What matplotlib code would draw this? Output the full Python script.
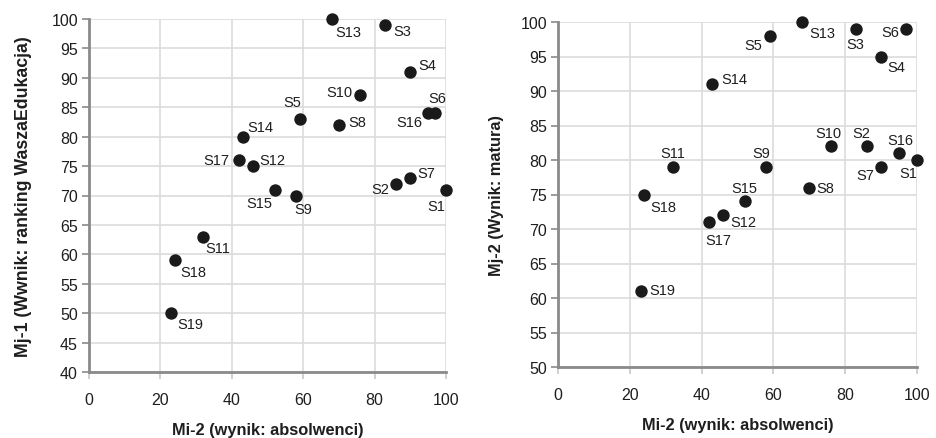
import matplotlib
matplotlib.use("Agg")
import matplotlib.pyplot as plt

plt.rcParams['font.family'] = ['Liberation Sans', 'DejaVu Sans']

labels = ["S1", "S2", "S3", "S4", "S5", "S6", "S7", "S8", "S9", "S10",
          "S11", "S12", "S13", "S14", "S15", "S16", "S17", "S18", "S19"]
mi2 = [100, 86, 83, 90, 59, 97, 90, 70, 58, 76, 32, 46, 68, 43, 52, 95, 42, 24, 23]
mj1 = [71, 72, 99, 91, 83, 84, 73, 82, 70, 87, 63, 75, 100, 80, 71, 84, 76, 59, 50]
mj2 = [80, 82, 99, 95, 98, 99, 79, 76, 79, 82, 79, 72, 100, 91, 74, 81, 71, 75, 61]

# label offsets in pixels (dx right, dy down)
off1 = {"S13": (17, 13), "S3": (17, 6), "S4": (17, -7), "S10": (-21, -3),
        "S6": (2, -15), "S16": (-19, 9), "S5": (-7, -17), "S8": (18, -3),
        "S14": (18, -10), "S17": (-23, 0), "S12": (19, -6), "S15": (-15, 13),
        "S9": (7, 14), "S2": (-16, 5), "S7": (16, -5), "S1": (-10, 16),
        "S11": (15, 11), "S18": (19, 12), "S19": (19, 11)}
off2 = {"S13": (20, 11), "S3": (-1, 15), "S6": (-16, 3), "S4": (15, 11),
        "S5": (-17, 9), "S14": (22, -5), "S10": (-2, -13), "S2": (-5, -13),
        "S16": (1, -13), "S1": (-9, 13), "S7": (-16, 8), "S11": (0, -14),
        "S9": (-5, -14), "S8": (16, 0), "S18": (19, 13), "S15": (0, -13),
        "S12": (20, 7), "S17": (10, 18), "S19": (22, -1)}

fig = plt.figure(figsize=(9.36, 4.39), dpi=100)
ax1 = fig.add_axes([89/936, 1-373/439, (446-89)/936, (373-20)/439])
ax2 = fig.add_axes([558/936, 1-368/439, (917-558)/936, (368-23)/439])

spine_c = '#8a8a8a'
grid_c = '#dcdcdc'
txt_c = '#1e1e1e'
pt = 0.72


def style(ax, ylim, yticks, ylabel, ylabsize, ylabpad):
    ax.set_xlim(0, 100)
    ax.set_ylim(*ylim)
    ax.set_xticks(range(0, 101, 20))
    ax.set_yticks(yticks)
    ax.grid(True, color=grid_c, linewidth=1.2, zorder=0)
    ax.set_axisbelow(True)
    for s in ['top', 'right']:
        ax.spines[s].set_visible(False)
    for s in ['left', 'bottom']:
        ax.spines[s].set_color(spine_c)
        ax.spines[s].set_linewidth(2)
    ax.tick_params(axis='y', length=5, width=1.2, color=spine_c, pad=3,
                   labelsize=11.5, labelcolor=txt_c)
    ax.tick_params(axis='x', length=5, width=1.2, color='#c8c8c8', pad=9.5,
                   labelsize=11.5, labelcolor=txt_c)
    ax.set_xlabel("Mi-2 (wynik: absolwenci)", fontsize=11.8, fontweight='bold',
                  color=txt_c, labelpad=11)
    ax.set_ylabel(ylabel, fontsize=ylabsize, fontweight='bold', color=txt_c,
                  labelpad=ylabpad)


def draw(ax, ys, offs):
    ax.scatter(mi2, ys, s=80, color='#1a1a1a', zorder=3, clip_on=False,
               linewidths=0)
    for lab, x, y in zip(labels, mi2, ys):
        dx, dy = offs[lab]
        ax.annotate(lab, (x, y), xytext=(dx*pt, -dy*pt), textcoords='offset points',
                    ha='center', va='center', fontsize=10.5, color=txt_c, zorder=4,
                    annotation_clip=False)


style(ax1, (40, 100), range(40, 101, 5), "Mj-1 (Wwnik: ranking WaszaEdukacja)", 12.8, 14)
draw(ax1, mj1, off1)
style(ax2, (50, 100), range(50, 101, 5), "Mj-2 (Wynik: matura)", 11.8, 12)
draw(ax2, mj2, off2)

fig.savefig("out.png", dpi=100)
